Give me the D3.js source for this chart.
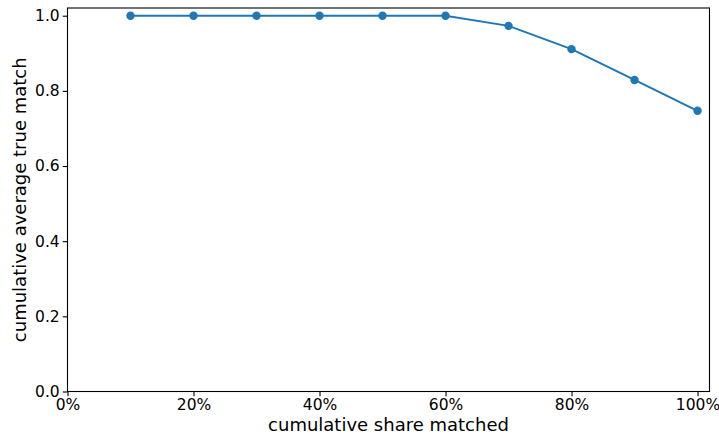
<!DOCTYPE html>
<html>
<head>
<meta charset="utf-8">
<script src="https://cdn.jsdelivr.net/npm/d3@7"></script>
<style>
  body { margin: 0; background: #fff; }
  text { font-family: "DejaVu Sans", sans-serif; fill: #000; }
</style>
</head>
<body>
<div class="chart"></div>
<script>
// data
const shares = [0.1, 0.2, 0.3, 0.4, 0.5, 0.6, 0.7, 0.8, 0.9, 1.0];
const avgTrueMatch = [1.0, 1.0, 1.0, 1.0, 1.0, 1.0, 0.973, 0.911, 0.829, 0.747];
const xTicks = [0, 0.2, 0.4, 0.6, 0.8, 1.0];
const yTicks = [0, 0.2, 0.4, 0.6, 0.8, 1.0];

var cfg = {
  width: 719,
  height: 435,
  margin: {top: 8, right: 9.5, bottom: 43.5, left: 67.5},
};
var plotW = cfg.width - cfg.margin.left - cfg.margin.right;
var plotH = cfg.height - cfg.margin.top - cfg.margin.bottom;

var x = d3.scaleLinear().domain([0, 1.019]).range([cfg.margin.left, cfg.margin.left + plotW]);
var y = d3.scaleLinear().domain([0, 1.0205]).range([cfg.margin.top + plotH, cfg.margin.top]);

var svg = d3.select(".chart").append("svg")
  .attr("width", cfg.width)
  .attr("height", cfg.height);

// axes
svg.append("g")
  .attr("transform", `translate(0,${cfg.margin.top + plotH})`)
  .call(d3.axisBottom(x).tickValues(xTicks).tickFormat(d3.format(".0%")).tickSizeOuter(0).tickSize(4.8).tickPadding(3));
svg.append("g")
  .attr("transform", `translate(${cfg.margin.left},0)`)
  .call(d3.axisLeft(y).tickValues(yTicks).tickFormat(d3.format(".1f")).tickSizeOuter(0).tickSize(4.8).tickPadding(3));

svg.selectAll(".tick text").style("font-size", "15.5px");
svg.selectAll(".tick line").attr("stroke", "#000").attr("stroke-width", 1.1);
svg.selectAll(".domain").remove();

// frame
svg.append("rect")
  .attr("x", cfg.margin.left)
  .attr("y", cfg.margin.top)
  .attr("width", plotW)
  .attr("height", plotH)
  .attr("fill", "none")
  .attr("stroke", "#000")
  .attr("stroke-width", 1.1);

// line + markers
var pts = shares.map((s, i) => [s, avgTrueMatch[i]]);
svg.append("path")
  .datum(pts)
  .attr("fill", "none")
  .attr("stroke", "#1f77b4")
  .attr("stroke-width", 2)
  .attr("d", d3.line().x(d => x(d[0])).y(d => y(d[1])));

svg.append("g")
  .selectAll("circle")
  .data(pts)
  .enter().append("circle")
  .attr("cx", d => x(d[0]))
  .attr("cy", d => y(d[1]))
  .attr("r", 4.2)
  .attr("fill", "#1f77b4");

// labels
svg.append("text")
  .attr("x", cfg.margin.left + plotW / 2)
  .attr("y", 431)
  .attr("text-anchor", "middle")
  .style("font-size", "18px")
  .text("cumulative share matched");

svg.append("text")
  .attr("transform", `translate(26,${cfg.margin.top + plotH / 2}) rotate(-90)`)
  .attr("text-anchor", "middle")
  .style("font-size", "18px")
  .text("cumulative average true match");
</script>
</body>
</html>
